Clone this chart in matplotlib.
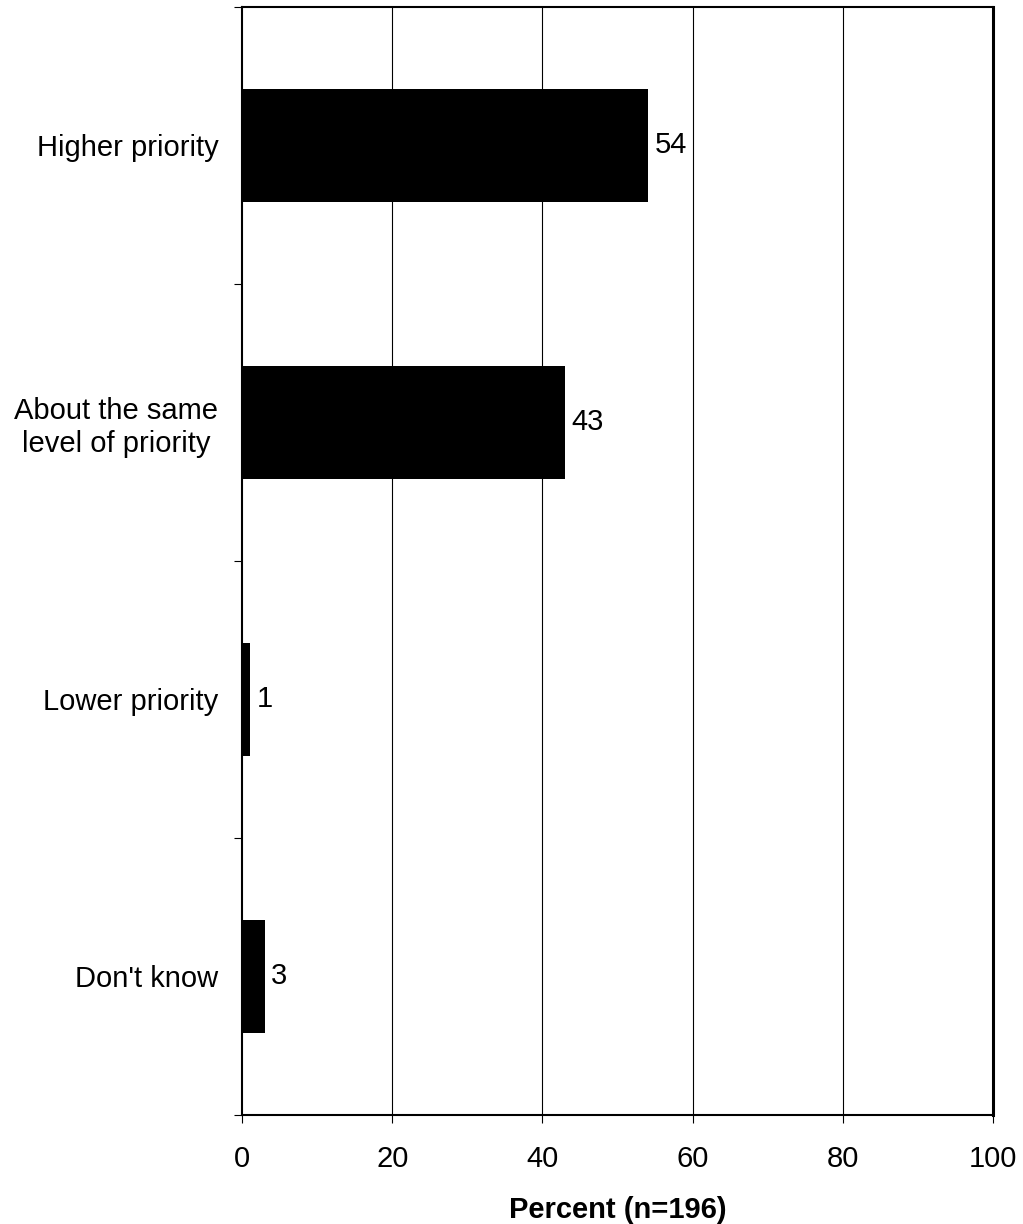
import numpy as np
import matplotlib
matplotlib.use('Agg')
from matplotlib import pyplot as plt

categories = ['Higher priority', 'About the same\nlevel of priority', 'Lower priority', "Don't know"]
values = [54, 43, 1, 3]
xticks = [0, 20, 40, 60, 80, 100]

plt.rcParams['font.family'] = ['Liberation Sans', 'DejaVu Sans']
fs = 21

fig = plt.figure(figsize=(10.23, 12.24), dpi=100)
ax = fig.add_axes([0.2366, 0.0891, 0.7341, 0.9052])

pos = np.arange(len(categories))
ax.barh(pos, values, height=0.405, color='black', zorder=3)
for p, v in zip(pos, values):
    ax.text(v + 0.9, p, str(v), va='center', ha='left', fontsize=fs)

ax.set_xlim(0, 100)
ax.set_ylim(len(categories) - 0.5, -0.5)

# vertical gridlines
for x in xticks[1:-1]:
    ax.axvline(x, color='black', lw=0.8, zorder=1)

ax.set_xticks(xticks)
ax.tick_params(axis='x', direction='out', length=6, width=0.8, pad=16, labelsize=fs)

# ticks between categories, labels at category centres
ax.set_yticks(np.arange(-0.5, len(categories), 1.0))
ax.set_yticklabels([])
ax.set_yticks(pos, minor=True)
ax.set_yticklabels(categories, minor=True, multialignment='center')
ax.tick_params(axis='y', which='major', direction='out', length=6, width=0.8)
ax.tick_params(axis='y', which='minor', length=0, pad=17, labelsize=fs)

for side in ['left', 'bottom', 'top']:
    ax.spines[side].set_linewidth(1.5)
ax.spines['right'].set_linewidth(2.2)

ax.set_xlabel('Percent (n=196)', fontsize=fs, fontweight='bold', labelpad=16)

fig.savefig('out.png', dpi=100)
